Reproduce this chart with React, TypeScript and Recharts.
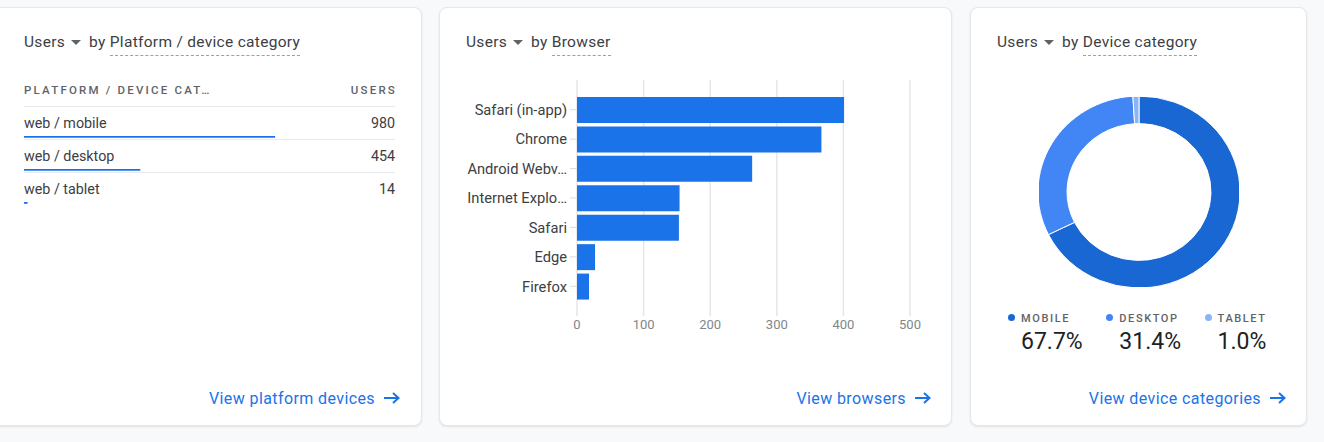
import React from 'react';
import { BarChart, Bar, XAxis, YAxis, CartesianGrid, PieChart, Pie, Cell } from 'recharts';

// platform / device table
const platformRows = ['web / mobile', 'web / desktop', 'web / tablet'];
const platformUsers = [980, 454, 14];

// browsers
const browserLabels = ['Safari (in-app)', 'Chrome', 'Android Webv…', 'Internet Explo…', 'Safari', 'Edge', 'Firefox'];
const browserUsers = [401, 367, 263, 154, 153, 27, 18];
const browserTicks = [0, 100, 200, 300, 400, 500];

// device category
const deviceLabels = ['MOBILE', 'DESKTOP', 'TABLET'];
const deviceColors = ['#1967d2', '#4285f4', '#8ab4f8'];

const BLUE = '#1a73e8';
const FONT = 'Roboto, "Noto Sans", sans-serif';

const totalUsers = platformUsers.reduce((a, b) => a + b, 0);
const browserData = browserLabels.map((name, i) => ({ name, value: browserUsers[i] }));
const deviceData = deviceLabels.map((name, i) => ({ name, value: platformUsers[i] }));

const cardStyle = (left: number, width: number): React.CSSProperties => ({
    position: 'absolute',
    left,
    top: 7,
    width,
    height: 419,
    background: '#fff',
    borderRadius: 8,
    border: '1px solid #e6e7e9',
    boxSizing: 'border-box',
    boxShadow: '0 1px 2px rgba(60,64,67,0.12)',
});

const Caret = () => (
    <svg width="10" height="5" style={{ margin: '0 8px 0 6px', verticalAlign: 'middle' }}>
        <path d="M0 0 L10 0 L5 5 Z" fill="#5f6368" />
    </svg>
);

const Title = ({ left, by }: { left: number; by: string }) => (
    <div style={{ position: 'absolute', left, top: 32, fontSize: 15.5, letterSpacing: 0.3, color: '#3c4043', whiteSpace: 'nowrap', lineHeight: '20px' }}>
        Users<Caret />by{' '}
        <span style={{ borderBottom: '1.5px dashed #9aa0a6', paddingBottom: 4 }}>{by}</span>
    </div>
);

const Link = ({ right, text }: { right: number; text: string }) => (
    <div style={{ position: 'absolute', right, top: 389, fontSize: 16, letterSpacing: 0.4, color: BLUE, whiteSpace: 'nowrap', lineHeight: '20px' }}>
        {text}
        <svg width="18" height="14" style={{ marginLeft: 8, verticalAlign: 'middle', marginTop: -3 }}>
            <path d="M1 7 H15 M10 2 L15.5 7 L10 12" stroke={BLUE} strokeWidth="2" fill="none" />
        </svg>
    </div>
);

const RowBar = ({ value }: { value: number }) => (
    <BarChart width={371} height={2} data={[{ value }]} layout="vertical" margin={{ top: 0, right: 0, bottom: 0, left: 0 }}>
        <XAxis type="number" domain={[0, totalUsers]} hide />
        <YAxis type="category" hide />
        <Bar dataKey="value" fill={BLUE} barSize={2} isAnimationActive={false} />
    </BarChart>
);

const App = () => {
    return (
        <div style={{ position: 'absolute', left: 0, top: 0, width: 1324, height: 442, background: '#f8f9fa', fontFamily: FONT, overflow: 'hidden' }}>
            {/* card 1 */}
            <div style={cardStyle(-10, 432)} />
            <Title left={24} by="Platform / device category" />
            <div style={{ position: 'absolute', left: 24, top: 82, width: 371, fontSize: 11.5, letterSpacing: 2.2, color: '#5f6368', fontWeight: 500, lineHeight: '16px' }}>
                <span>PLATFORM / DEVICE CAT…</span>
                <span style={{ position: 'absolute', right: -2 }}>USERS</span>
            </div>
            <div style={{ position: 'absolute', left: 24, top: 106, width: 371, borderTop: '1px solid #e8eaed' }} />
            {platformRows.map((row, i) => (
                <div key={row} style={{ position: 'absolute', left: 24, top: 107 + i * 33, width: 371, height: 32 }}>
                    <div style={{ position: 'absolute', left: 0, top: 6, fontSize: 14.3, color: '#3c4043', lineHeight: '20px' }}>{row}</div>
                    <div style={{ position: 'absolute', right: 0, top: 6, fontSize: 14.3, color: '#3c4043', lineHeight: '20px' }}>{platformUsers[i]}</div>
                    <div style={{ position: 'absolute', left: 0, top: 29 }}>
                        <RowBar value={platformUsers[i]} />
                    </div>
                    {i < platformRows.length - 1 && (
                        <div style={{ position: 'absolute', left: 0, top: 32, width: 371, borderTop: '1px solid #e8eaed' }} />
                    )}
                </div>
            ))}
            <Link right={1324 - 401} text="View platform devices" />

            {/* card 2 */}
            <div style={cardStyle(439, 513)} />
            <Title left={466} by="Browser" />
            <div style={{ position: 'absolute', left: 440, top: 70 }}>
                <BarChart
                    width={490}
                    height={276}
                    layout="vertical"
                    data={browserData}
                    margin={{ top: 10, right: 20, bottom: 0, left: 0 }}
                    barSize={26}
                >
                    <CartesianGrid horizontal={false} stroke="#e6e6e6" strokeWidth={1.5} />
                    <XAxis
                        type="number"
                        domain={[0, 500]}
                        ticks={browserTicks}
                        axisLine={false}
                        tickLine={false}
                        tickSize={0}
                        tickMargin={4}
                        height={30}
                        tick={{ fontSize: 13, fill: '#80868b', fontFamily: FONT }}
                    />
                    <YAxis
                        type="category"
                        dataKey="name"
                        width={137}
                        axisLine={false}
                        tickSize={7}
                        tickMargin={3}
                        padding={{ top: 15, bottom: 15 }}
                        tickLine={{ stroke: '#dadce0' }}
                        tick={{ fontSize: 14.7, fill: '#3c4043', fontFamily: FONT }}
                        interval={0}
                    />
                    <Bar dataKey="value" fill={BLUE} isAnimationActive={false} />
                </BarChart>
            </div>
            <Link right={1324 - 932} text="View browsers" />

            {/* card 3 */}
            <div style={cardStyle(970, 337)} />
            <Title left={997} by="Device category" />
            <div style={{ position: 'absolute', left: 1039, top: 92, transform: 'scaleY(0.95)', transformOrigin: '50% 50%' }}>
                <PieChart width={200} height={200} margin={{ top: 0, right: 0, bottom: 0, left: 0 }}>
                    <Pie
                        data={deviceData}
                        dataKey="value"
                        cx={100}
                        cy={100}
                        innerRadius={72}
                        outerRadius={101}
                        startAngle={90}
                        endAngle={-270}
                        stroke="#fff"
                        strokeWidth={1}
                        isAnimationActive={false}
                    >
                        {deviceData.map((d, i) => (
                            <Cell key={d.name} fill={deviceColors[i]} />
                        ))}
                    </Pie>
                </PieChart>
            </div>
            {deviceData.map((d, i) => (
                <div key={d.name} style={{ position: 'absolute', left: 1008 + i * 98.3, top: 311 }}>
                    <div style={{ fontSize: 11, letterSpacing: 1.6, color: '#5f6368', fontWeight: 500, lineHeight: '16px', whiteSpace: 'nowrap' }}>
                        <span style={{ display: 'inline-block', width: 7, height: 7, borderRadius: '50%', background: deviceColors[i], marginRight: 6, verticalAlign: 1 }} />
                        {d.name}
                    </div>
                    <div style={{ marginLeft: 13, fontSize: 23, color: '#202124', lineHeight: '30px', whiteSpace: 'nowrap' }}>
                        {((d.value / totalUsers) * 100).toFixed(1)}%
                    </div>
                </div>
            ))}
            <Link right={1324 - 1287} text="View device categories" />
        </div>
    );
};

export default App;
